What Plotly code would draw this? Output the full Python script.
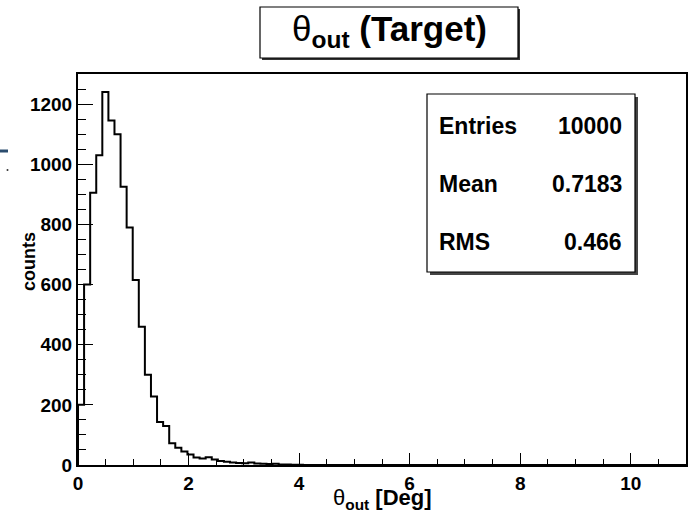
import plotly.graph_objects as go

# ---------------- data ----------------
X_MIN, X_MAX = 0.0, 11.0
N_BINS = 100
# bin contents (first bins from x=0, bin width = 0.11 deg); remaining bins are empty
counts = [200, 600, 905, 1030, 1240, 1145, 1100, 925, 790, 615,
          460, 300, 228, 143, 130, 72, 57, 45, 35, 25,
          22, 26, 18, 13, 11, 8, 7, 6, 8, 5,
          4, 3, 4, 2, 2, 1, 1]
stats_labels = ["Entries", "Mean", "RMS"]
stats_values = ["10000", "0.7183", "0.466"]
x_ticks = [0, 2, 4, 6, 8, 10]
y_ticks = [0, 200, 400, 600, 800, 1000, 1200]
Y_MAX = 1300

# ---------------- build outline ----------------
bw = (X_MAX - X_MIN) / N_BINS
xs = [X_MIN] + [X_MIN + i * bw for i in range(len(counts))] + [X_MIN + len(counts) * bw, X_MAX]
ys = [0] + counts + [0, 0]

W, H = 692, 521
L, R, T, B = 78, 686, 74, 465


def px(x):
    return (x - L) / (R - L)


def py(y):
    return (B - y) / (B - T)


FONT = "Liberation Sans, Arial, Helvetica, sans-serif"

fig = go.Figure()
fig.add_trace(go.Scatter(x=xs, y=ys, mode="lines", line=dict(color="black", width=2, shape="hv"),
                         hoverinfo="skip", showlegend=False))

axis_common = dict(showline=True, linecolor="black", linewidth=2, mirror=True,
                   showgrid=False, zeroline=False, ticks="inside", tickcolor="black",
                   tickwidth=1.2, tickfont=dict(family=FONT, size=19, color="black", weight="bold"))

fig.update_layout(
    width=W, height=H,
    margin=dict(l=L, r=W - R, t=T, b=H - B, autoexpand=False),
    paper_bgcolor="white", plot_bgcolor="white",
    xaxis=dict(range=[X_MIN, X_MAX], tickvals=x_ticks, ticklen=12, automargin=False,
               minor=dict(ticks="inside", dtick=0.5, ticklen=6, tickcolor="black", tickwidth=1.2),
               **axis_common),
    yaxis=dict(range=[0, Y_MAX], tickvals=y_ticks, ticklen=15, automargin=False,
               minor=dict(ticks="inside", dtick=50, ticklen=8, tickcolor="black", tickwidth=1.2),
               **axis_common),
)

shapes = []
annotations = []

# title box with shadow
tb = (260, 7, 518, 58)
shapes.append(dict(type="rect", xref="paper", yref="paper", x0=px(tb[0] + 2), x1=px(tb[2] + 2),
                   y0=py(tb[3] + 2), y1=py(tb[1] + 2), fillcolor="#333333", line=dict(width=0)))
shapes.append(dict(type="rect", xref="paper", yref="paper", x0=px(tb[0]), x1=px(tb[2]),
                   y0=py(tb[3]), y1=py(tb[1]), fillcolor="white", line=dict(color="black", width=1.2)))
annotations.append(dict(xref="paper", yref="paper", x=px(389), y=py(31), xanchor="center", yanchor="middle",
                        showarrow=False, text="θ<sub><b>out</b></sub><b> (Target)</b>",
                        font=dict(family=FONT, size=35, color="black")))

# stats box with shadow
sb = (427, 94, 635, 272)
shapes.append(dict(type="rect", xref="paper", yref="paper", x0=px(sb[0] + 3), x1=px(sb[2] + 3),
                   y0=py(sb[3] + 3), y1=py(sb[1] + 3), fillcolor="#444444", line=dict(width=0)))
shapes.append(dict(type="rect", xref="paper", yref="paper", x0=px(sb[0]), x1=px(sb[2]),
                   y0=py(sb[3]), y1=py(sb[1]), fillcolor="white", line=dict(color="black", width=1.2)))
row_y = [126, 184, 242]
for lab, val, yy in zip(stats_labels, stats_values, row_y):
    annotations.append(dict(xref="paper", yref="paper", x=px(437), y=py(yy), xanchor="left", yanchor="middle",
                            showarrow=False, text=lab,
                            font=dict(family=FONT, size=23, color="black", weight="bold")))
    annotations.append(dict(xref="paper", yref="paper", x=px(624), y=py(yy), xanchor="right", yanchor="middle",
                            showarrow=False, text=val,
                            font=dict(family=FONT, size=23, color="black", weight="bold")))

# axis titles
annotations.append(dict(xref="paper", yref="paper", x=px(382), y=py(499), xanchor="center", yanchor="middle",
                        showarrow=False, text="θ<sub><b>out</b></sub><b> [Deg]</b>",
                        font=dict(family=FONT, size=22, color="black")))
annotations.append(dict(xref="paper", yref="paper", x=px(29), y=py(262), xanchor="center", yanchor="middle",
                        showarrow=False, text="<b>counts</b>", textangle=-90,
                        font=dict(family=FONT, size=18, color="black")))

# small stray mark at the left edge of the image
shapes.append(dict(type="line", xref="paper", yref="paper", x0=px(0), x1=px(8), y0=py(151), y1=py(151),
                   line=dict(color="#2b4c6e", width=3)))
shapes.append(dict(type="circle", xref="paper", yref="paper", x0=px(6.5), x1=px(8.5), y0=py(171), y1=py(169),
                   fillcolor="#333333", line=dict(width=0)))

fig.update_layout(shapes=shapes, annotations=annotations)
fig.write_html("out.html", config={"displayModeBar": False},
               post_script="document.body.style.margin='0';document.body.style.padding='0';")
